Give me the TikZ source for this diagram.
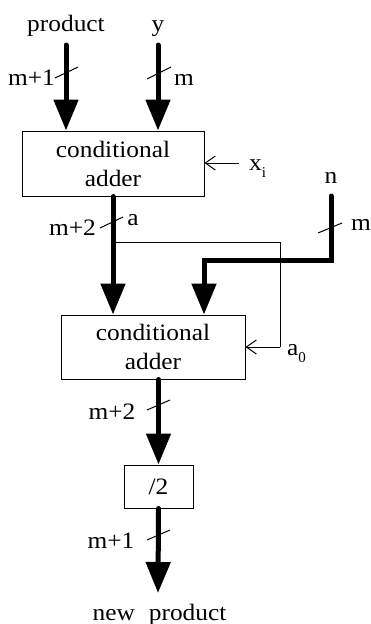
\documentclass[tikz,border=0pt]{standalone}
\usepackage{graphicx}
\usepackage{fontspec}
\setmainfont{Liberation Serif}
\usetikzlibrary{arrows.meta}
\newcommand\lowsub[1]{\raisebox{-7pt}{\fontsize{15}{15}\selectfont #1}}
\newcommand\widetext[1]{\scalebox{1.08}[1]{#1}}
\begin{document}
\begin{tikzpicture}[x=1pt,y=-1pt,
  lbl/.style={inner sep=0pt, anchor=base, font=\fontsize{23.5}{29}\selectfont},
  blk/.style={draw, line width=1pt, inner sep=0pt, align=center,
              font=\fontsize{23.5}{29}\selectfont},
  bus/.style={line width=5pt, line cap=round, line join=miter,
              -{Triangle[width=24pt,length=31pt]}},
  ctl/.style={line width=1pt, -{Straight Barb[width=14pt,length=10pt]}},
  wire/.style={line width=1pt},
  tick/.style={line width=1pt}]
\useasboundingbox (0,0) rectangle (371,624);

% blocks
\node[blk, minimum width=182pt, minimum height=65pt] (add1) at (113,163.5)
  {\widetext{conditional}\\\widetext{adder}};
\node[blk, minimum width=184pt, minimum height=64pt] (add2) at (153,347)
  {\widetext{conditional}\\\widetext{adder}};
\node[blk, minimum width=69pt, minimum height=43pt] (half) at (158.5,486.5) {\widetext{/2}};

% input and output labels
\node[lbl] (prod) at (66,31) {\widetext{product}};
\node[lbl] (yin) at (158,31) {\widetext{y}};
\node[lbl] (nin) at (331,183) {\widetext{n}};
\node[lbl, anchor=base west] (xin) at (249,170) {\widetext{x}\lowsub{i}};
\node[lbl, anchor=base west] (a0) at (287,355) {\widetext{a}\lowsub{0}};
\node[lbl] (newprod) at (159.5,620) {\widetext{new}\hspace{14pt}\widetext{product}};

% width labels
\node[lbl] (w1) at (31.5,85) {\widetext{m+1}};
\node[lbl] (w2) at (184,85) {\widetext{m}};
\node[lbl] (w3) at (72.5,235) {\widetext{m+2}};
\node[lbl] (alab) at (133,225) {\widetext{a}};
\node[lbl] (w4) at (361,230) {\widetext{m}};
\node[lbl] (w5) at (112,419) {\widetext{m+2}};
\node[lbl] (w6) at (111,548) {\widetext{m+1}};

% bus start and end points
\coordinate (prodtop) at (prod.south |- 0,45);
\coordinate (ytop) at (yin.south |- 0,45);
\coordinate (ntop) at (331,196);
\coordinate (nbend1) at (331,260);
\coordinate (nbend2) at (add2.north -| 204,0);
\coordinate (abranch) at (add1.south |- 0,242);
\coordinate (acorner) at (280,242);
\coordinate (xstart) at (239,163);
\coordinate (outend) at (158,593);

% buses
\draw[bus] (prodtop) -- (prodtop |- add1.north);
\draw[bus] (ytop) -- (ytop |- add1.north);
\draw[bus] (add1.south) -- (add1.south |- add2.north);
\draw[bus] (ntop) -- (nbend1) -- (nbend1 -| nbend2) -- (nbend2);
\draw[bus] (add2.south -| half.north) -- (half.north);
\draw[bus] (half.south) -- (outend);

% control inputs
\draw[ctl] (xstart) -- (xstart -| add1.east);
\draw[wire] (abranch) -- (acorner) -- (acorner |- add2.east);
\draw[ctl] (acorner |- add2.east) -- (add2.east);

% bus width ticks
\draw[tick] (55,78) -- (78,67);
\draw[tick] (147,79) -- (171,67);
\draw[tick] (100,228) -- (123,217);
\draw[tick] (318,233) -- (342,223);
\draw[tick] (147,410) -- (170,400);
\draw[tick] (147,540) -- (170,530);
\end{tikzpicture}
\end{document}
